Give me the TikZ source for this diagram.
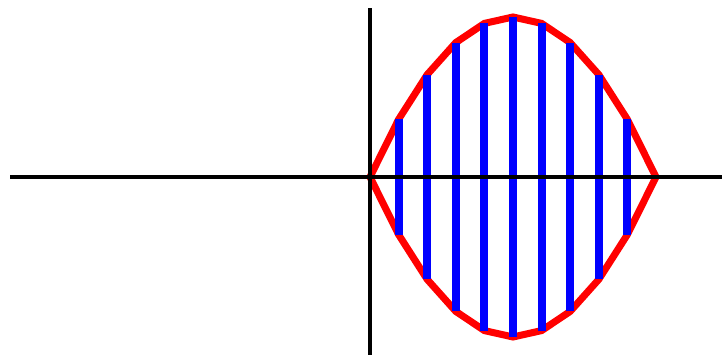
\documentclass[tikz,border=0pt]{standalone}
\usepackage{tikz}
\begin{document}
\begin{tikzpicture}[x=5.72cm,y=3.2cm]
            \useasboundingbox (-1.2937,-1.1125) rectangle (1.2308,1.10625);

            % Outline of the region
            \draw[red, line width=4pt, line join=miter]
                plot[domain=0:1, samples=11] (\x, {4*\x*(1-\x)})
                -- plot[domain=1:0, samples=11] (\x, {-4*\x*(1-\x)}) -- cycle;

            % Slices
            \foreach \i in {1,...,9}
                \draw[blue, line width=4.5pt] (\i/10, {-4*\i/10*(1-\i/10)}) -- (\i/10, {4*\i/10*(1-\i/10)});

            % Axes
            \draw[line width=2.6pt] (-1.2587,0) -- (1.2308,0);
            \draw[line width=2.6pt] (0,-1.1125) -- (0,1.05625);
         \end{tikzpicture}
\end{document}
